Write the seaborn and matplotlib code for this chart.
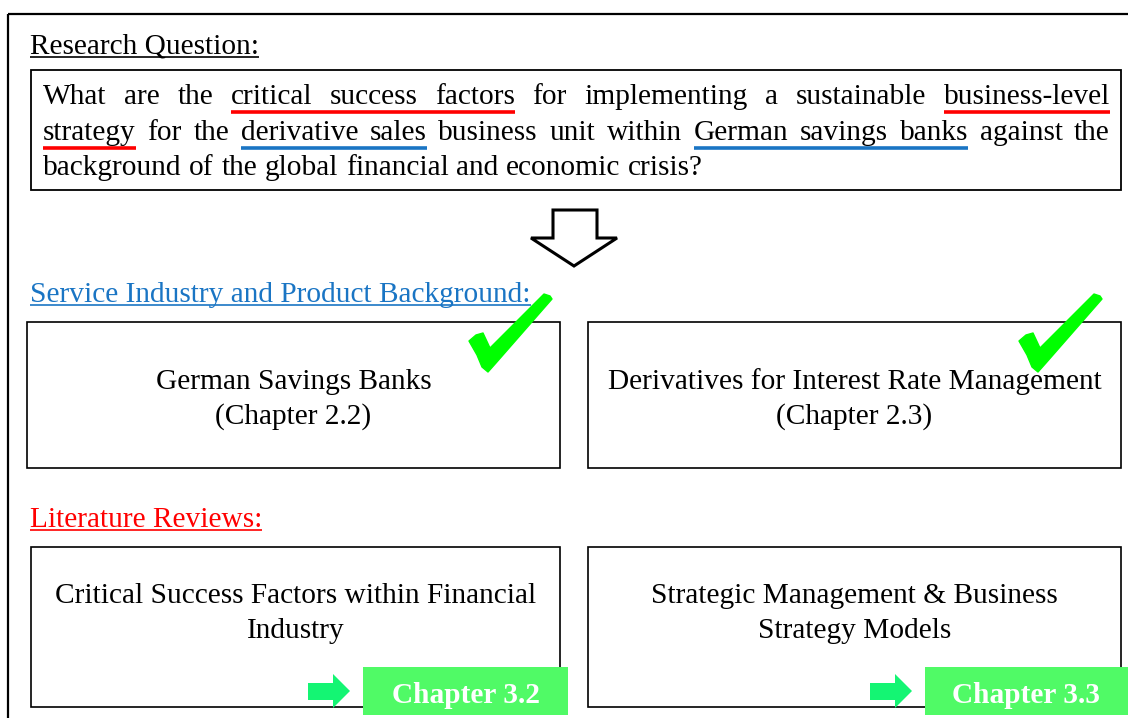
import matplotlib.pyplot as plt
import seaborn as sns
from matplotlib.patches import Rectangle, Polygon

sns.set_theme(style="white")
plt.rcParams['font.family'] = ['Liberation Serif', 'DejaVu Serif']
plt.rcParams['text.color'] = 'black'

# text content
question_lines = [
    "What are the critical success factors for implementing a sustainable business-level",
    "strategy for the derivative sales business unit within German savings banks against the",
    "background of the global financial and economic crisis?",
]
# (line, first word, last word, colour) of underlined keywords
highlights = [
    (0, 3, 5, "red"), (0, 10, 10, "red"), (1, 0, 0, "red"),
    (1, 3, 4, "blue"), (1, 8, 10, "blue"),
]
section_titles = ["Research Question:", "Service Industry and Product Background:", "Literature Reviews:"]
background_boxes = [["German Savings Banks", "(Chapter 2.2)"],
                    ["Derivatives for Interest Rate Management", "(Chapter 2.3)"]]
literature_boxes = [["Critical Success Factors within Financial", "Industry"],
                    ["Strategic Management & Business", "Strategy Models"]]
chapter_labels = ["Chapter 3.2", "Chapter 3.3"]

RED = "#ff0000"
BLUE = "#1a75c4"
GREEN_BOX = "#50fa66"
GREEN_ARROW = "#14f573"
CHECK = "#00ff00"
FS = 21.2

fig = plt.figure(figsize=(11.28, 7.18), dpi=100)
ax = fig.add_axes([0, 0, 1, 1])
ax.set_xlim(0, 1128)
ax.set_ylim(718, 0)
ax.axis("off")
renderer = fig.canvas.get_renderer()


def width_of(t):
    bb = t.get_window_extent(renderer)
    return bb.width


def underline(x0, x1, y, color, lw):
    ax.plot([x0, x1], [y, y], color=color, lw=lw, solid_capstyle="butt")


# outer frame
ax.add_patch(Rectangle((8, 14), 1140, 720, fill=False, ec="black", lw=1.6))

# section headings
head_y = [54, 302, 527]
head_col = ["black", BLUE, RED]
for title, y, c in zip(section_titles, head_y, head_col):
    t = ax.text(30, y, title, fontsize=FS, color=c, va="baseline")
    underline(30, 30 + width_of(t), y + 3, c, 1.2)

# question box with justified text
ax.add_patch(Rectangle((31, 70), 1090, 120, fill=False, ec="black", lw=1.3))
left, right = 43, 1110
base_y = [104, 140, 175]
word_pos = []
for i, line in enumerate(question_lines):
    words = line.split(" ")
    objs = [ax.text(0, base_y[i], w, fontsize=FS, va="baseline", color="black") for w in words]
    widths = [width_of(o) for o in objs]
    if i < len(question_lines) - 1:
        gap = (right - left - sum(widths)) / (len(words) - 1)
    else:
        gap = 7.6
    x = left
    pos = []
    for o, w in zip(objs, widths):
        o.set_x(x)
        pos.append((x, x + w))
        x += w + gap
    word_pos.append(pos)

for li, a, b, c in highlights:
    col = RED if c == "red" else BLUE
    underline(word_pos[li][a][0], word_pos[li][b][1], base_y[li] + 8, col, 2.6)

# hollow down arrow
ax.add_patch(Polygon([(553, 210), (597, 210), (597, 238), (617, 238), (574, 266),
                      (531, 238), (553, 238)], closed=True, fill=False, ec="black", lw=2.2))

# boxes
col_x = [(27, 560), (588, 1121)]
for (x0, x1), lines in zip(col_x, background_boxes):
    ax.add_patch(Rectangle((x0, 322), x1 - x0, 146, fill=False, ec="black", lw=1.2))
    for k, s in enumerate(lines):
        ax.text((x0 + x1) / 2, 389 + 35 * k, s, fontsize=FS, ha="center", va="baseline", color="black")

col_x2 = [(31, 560), (588, 1121)]
for (x0, x1), lines in zip(col_x2, literature_boxes):
    ax.add_patch(Rectangle((x0, 547), x1 - x0, 160, fill=False, ec="black", lw=1.2))
    for k, s in enumerate(lines):
        ax.text((x0 + x1) / 2, 603 + 35 * k, s, fontsize=FS, ha="center", va="baseline", color="black")

# check marks
check = [(1, 48), (8, 42), (15, 40), (22, 55), (76, 1), (82, 3), (84, 6),
         (28, 70), (20, 79), (14, 74), (9, 62)]
for ox, oy in [(468, 293), (1018, 293)]:
    ax.add_patch(Polygon([(ox + px, oy + py) for px, py in check], closed=True,
                         fc=CHECK, ec=CHECK, lw=1, joinstyle="round"))

# chapter tags with green arrows
tags = [(363, 568, 308), (925, 1130, 870)]
for (x0, x1, ax0), lab in zip(tags, chapter_labels):
    ax.add_patch(Rectangle((x0, 667), x1 - x0, 48, fc=GREEN_BOX, ec="none"))
    ax.text((x0 + x1) / 2 + (0 if x1 < 1128 else -2), 703, lab, fontsize=FS,
            fontweight="bold", color="white", ha="center", va="baseline")
    ax.add_patch(Polygon([(ax0, 683), (ax0 + 25, 683), (ax0 + 25, 674), (ax0 + 42, 691),
                          (ax0 + 25, 708), (ax0 + 25, 700), (ax0, 700)],
                         closed=True, fc=GREEN_ARROW, ec="none"))

fig.savefig("out.png", dpi=100)
